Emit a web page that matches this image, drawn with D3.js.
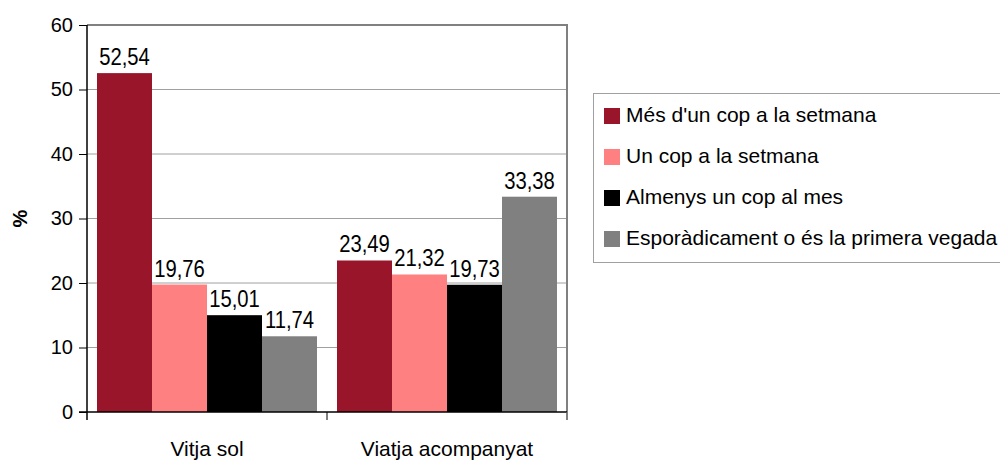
<!DOCTYPE html>
<html>
<head>
<meta charset="utf-8">
<script src="https://cdn.jsdelivr.net/npm/d3@7"></script>
<style>
  html, body { margin: 0; padding: 0; background: #fff; }
  svg { display: block; font-family: "Liberation Sans", Arial, sans-serif; }
</style>
</head>
<body>
<svg id="chart" width="1000" height="464"></svg>
<script>
// Categories, series and values
const categories = ["Vitja sol", "Viatja acompanyat"];
const seriesNames = [
  "Més d'un cop a la setmana",
  "Un cop a la setmana",
  "Almenys un cop al mes",
  "Esporàdicament o és la primera vegada"
];
const seriesColors = ["#99152a", "#ff8080", "#000000", "#808080"];
// values[series][category]
const mesDunCop = [52.54, 23.49];
const unCop = [19.76, 21.32];
const almenysMes = [15.01, 19.73];
const esporadicament = [11.74, 33.38];
const seriesValues = [mesDunCop, unCop, almenysMes, esporadicament];
const yTicks = [0, 10, 20, 30, 40, 50, 60];
const yLabel = "%";

const svg = d3.select("#chart");
const plot = { left: 87, right: 567, top: 25, bottom: 412 };

const x0 = d3.scaleBand().domain(categories).range([plot.left, plot.right]).paddingInner(0).paddingOuter(0);
const x1 = d3.scaleBand().domain(d3.range(seriesNames.length)).range([10, x0.bandwidth() - 10]).padding(0);
const y = d3.scaleLinear().domain([0, 60]).range([plot.bottom, plot.top]);

const fmt = v => v.toFixed(2).replace(".", ",");

// gridlines
svg.append("g").selectAll("line").data(yTicks.filter(t => t > 0 && t < 60)).join("line")
  .attr("x1", plot.left).attr("x2", plot.right)
  .attr("y1", d => y(d)).attr("y2", d => y(d))
  .attr("stroke", "#a0a0a0").attr("stroke-width", 1);

// plot frame (top and right)
svg.append("path")
  .attr("d", `M${plot.left},${y(60)}H${plot.right}V${plot.bottom + 8}`)
  .attr("fill", "none").attr("stroke", "#808080").attr("stroke-width", 2);

// bars
const rows = [];
seriesValues.forEach((vals, s) => vals.forEach((v, c) => rows.push({ s, c, v })));

svg.append("g").selectAll("rect").data(rows).join("rect")
  .attr("x", d => x0(categories[d.c]) + x1(d.s))
  .attr("width", x1.bandwidth())
  .attr("y", d => y(d.v))
  .attr("height", d => y(0) - y(d.v))
  .attr("fill", d => seriesColors[d.s]);

// value labels (slightly condensed)
svg.append("g").selectAll("text").data(rows).join("text")
  .attr("transform", d => `translate(${x0(categories[d.c]) + x1(d.s) + x1.bandwidth() / 2},${y(d.v) - 8}) scale(0.88,1)`)
  .attr("text-anchor", "middle")
  .attr("font-size", 23)
  .attr("fill", "#000")
  .text(d => fmt(d.v));

// y axis
const yAxis = d3.axisLeft(y).tickValues(yTicks).tickSize(8).tickPadding(6).tickFormat(d3.format("d"));
const gy = svg.append("g").attr("transform", `translate(${plot.left},0)`).call(yAxis);
gy.select(".domain").attr("stroke", "#000").attr("stroke-width", 1.5)
  .attr("d", `M0,${plot.top}V${plot.bottom + 8}`);
gy.selectAll(".tick line").attr("stroke", "#000");
gy.selectAll(".tick text").attr("font-size", 20).attr("font-family", "Liberation Sans, Arial, sans-serif").attr("fill", "#000");

// x axis
const gx = svg.append("g").attr("transform", `translate(0,${plot.bottom})`);
gx.append("line").attr("x1", plot.left - 8).attr("x2", plot.right).attr("stroke", "#000").attr("stroke-width", 1.5);
const boundaries = [x0(categories[1]), plot.right];
gx.selectAll("line.tk").data(boundaries).join("line").attr("class", "tk")
  .attr("x1", d => d).attr("x2", d => d).attr("y1", 0).attr("y2", 8)
  .attr("stroke", (d, i) => i === boundaries.length - 1 ? "#808080" : "#000");
gx.selectAll("text").data(categories).join("text")
  .attr("x", d => x0(d) + x0.bandwidth() / 2)
  .attr("y", 44)
  .attr("text-anchor", "middle")
  .attr("font-size", 21)
  .text(d => d);

// y label
svg.append("text")
  .attr("transform", `translate(27,${(plot.top + plot.bottom) / 2}) rotate(-90)`)
  .attr("text-anchor", "middle")
  .attr("font-size", 20)
  .attr("font-weight", "bold")
  .text(yLabel);

// legend
const legend = svg.append("g").attr("transform", "translate(593,93)");
legend.append("rect").attr("x", 0.5).attr("y", 0.5).attr("width", 420).attr("height", 169)
  .attr("fill", "#fff").attr("stroke", "#a0a0a0");
const items = legend.selectAll("g.item").data(seriesNames).join("g").attr("class", "item")
  .attr("transform", (d, i) => `translate(0,${29 + i * 41})`);
items.append("rect").attr("x", 11).attr("y", -14).attr("width", 16).attr("height", 16)
  .attr("fill", (d, i) => seriesColors[i]);
items.append("text").attr("x", 33).attr("y", 0).attr("font-size", 21).text(d => d);
</script>
</body>
</html>
